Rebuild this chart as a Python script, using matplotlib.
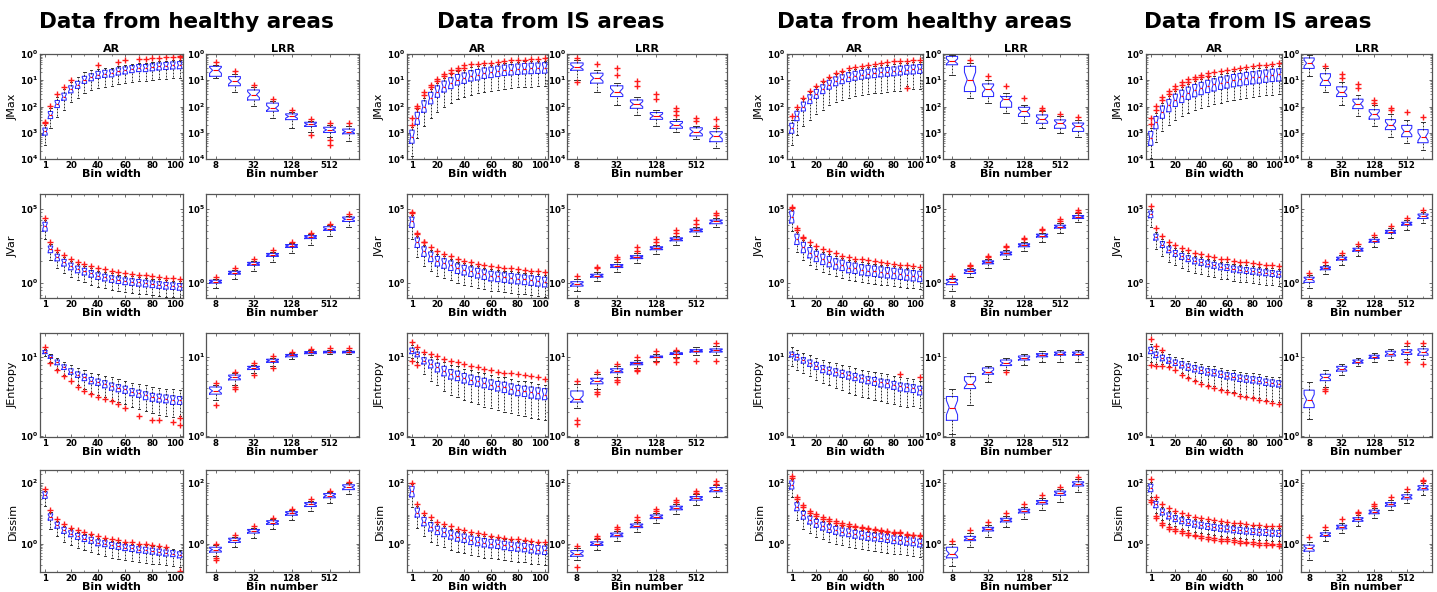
import numpy as np
import matplotlib
matplotlib.use("Agg")
import matplotlib.pyplot as plt
import matplotlib.transforms as mtransforms
from matplotlib.ticker import FixedLocator, NullFormatter, LogLocator

# ---------------- labels ----------------
GROUP_TITLES = ["Data from healthy areas", "Data from IS areas",
                "Data from healthy areas", "Data from IS areas"]
METRICS = ["JMax", "JVar", "JEntropy", "Dissim"]
AR_POS = [1, 5, 10, 15, 20, 25, 30, 35, 40, 45, 50, 55, 60, 65, 70, 75, 80, 85, 90, 95, 100]
AR_TICKS = [1, 20, 40, 60, 80, 100]
LRR_BINS = ["8", "16", "32", "64", "128", "256", "512", "1024"]
LRR_TICK_LABELS = ["8", "32", "128", "512"]

# y tick values (log10) and the labels printed on the reference
YTICK_EXP = {"JMax": [-4, -3, -2, -1, 0], "JVar": [0, 1], "JEntropy": [0, 1], "Dissim": [0, 2]}
YTICK_TXT = {"JMax": ["4", "3", "2", "1", "0"], "JVar": ["0", "5"],
             "JEntropy": ["0", "1"], "Dissim": ["0", "2"]}
YLIM_EXP = {"JMax": (-4, 0), "JVar": (-0.2, 1.2), "JEntropy": (-0.01, 1.3), "Dissim": (-0.94, 2.44)}

# ---------------- data (log10 values), one list per group ----------------
# ---- JMax / AR ----
JMAX_AR_MED = [
 [-2.95,-2.32,-1.90,-1.62,-1.34,-1.17,-0.98,-0.88,-0.79,-0.75,-0.73,-0.66,-0.62,-0.57,-0.53,-0.53,-0.50,-0.47,-0.45,-0.43,-0.42],
 [-3.15,-2.45,-2.00,-1.68,-1.43,-1.24,-1.11,-0.98,-0.92,-0.83,-0.79,-0.73,-0.70,-0.66,-0.62,-0.60,-0.58,-0.56,-0.55,-0.54,-0.53],
 [-2.83,-2.36,-2.00,-1.72,-1.52,-1.34,-1.17,-1.04,-0.96,-0.88,-0.83,-0.79,-0.75,-0.73,-0.70,-0.68,-0.66,-0.63,-0.60,-0.59,-0.57],
 [-3.20,-2.60,-2.20,-1.95,-1.75,-1.60,-1.48,-1.38,-1.30,-1.22,-1.16,-1.10,-1.05,-1.00,-0.96,-0.92,-0.89,-0.86,-0.83,-0.80,-0.78]]
JMAX_AR_Q1 = [
 [-3.09,-2.46,-2.04,-1.76,-1.48,-1.31,-1.12,-1.02,-0.93,-0.89,-0.87,-0.80,-0.76,-0.71,-0.67,-0.67,-0.64,-0.61,-0.59,-0.57,-0.56],
 [-3.40,-2.68,-2.22,-1.90,-1.65,-1.45,-1.32,-1.18,-1.12,-1.03,-0.99,-0.93,-0.90,-0.86,-0.82,-0.80,-0.78,-0.76,-0.75,-0.74,-0.73],
 [-3.02,-2.54,-2.17,-1.89,-1.69,-1.51,-1.34,-1.21,-1.13,-1.05,-1.00,-0.96,-0.92,-0.90,-0.87,-0.85,-0.83,-0.80,-0.77,-0.76,-0.74],
 [-3.48,-2.85,-2.45,-2.20,-2.00,-1.85,-1.73,-1.63,-1.55,-1.47,-1.41,-1.35,-1.30,-1.25,-1.21,-1.17,-1.14,-1.11,-1.08,-1.05,-1.03]]
JMAX_AR_Q3 = [
 [-2.82,-2.19,-1.77,-1.49,-1.21,-1.04,-0.85,-0.75,-0.66,-0.62,-0.60,-0.53,-0.49,-0.44,-0.40,-0.40,-0.37,-0.34,-0.32,-0.30,-0.29],
 [-2.90,-2.22,-1.78,-1.46,-1.21,-1.03,-0.90,-0.78,-0.72,-0.63,-0.59,-0.53,-0.50,-0.46,-0.42,-0.40,-0.38,-0.36,-0.35,-0.34,-0.33],
 [-2.64,-2.18,-1.83,-1.55,-1.35,-1.17,-1.00,-0.87,-0.79,-0.71,-0.66,-0.62,-0.58,-0.56,-0.53,-0.51,-0.49,-0.46,-0.43,-0.42,-0.40],
 [-2.95,-2.38,-1.98,-1.73,-1.53,-1.38,-1.26,-1.16,-1.08,-1.00,-0.94,-0.88,-0.83,-0.78,-0.74,-0.70,-0.67,-0.64,-0.61,-0.58,-0.56]]
JMAX_AR_LO = [
 [-3.45,-2.82,-2.40,-2.12,-1.84,-1.67,-1.48,-1.38,-1.29,-1.25,-1.23,-1.16,-1.12,-1.07,-1.03,-1.03,-1.00,-0.97,-0.95,-0.93,-0.92],
 [-3.90,-3.20,-2.75,-2.45,-2.20,-2.00,-1.85,-1.72,-1.65,-1.56,-1.50,-1.45,-1.40,-1.36,-1.32,-1.30,-1.27,-1.25,-1.24,-1.22,-1.21],
 [-3.45,-3.10,-2.75,-2.50,-2.30,-2.12,-1.95,-1.82,-1.74,-1.66,-1.60,-1.56,-1.52,-1.50,-1.47,-1.45,-1.42,-1.40,-1.22,-1.35,-1.33],
 [-3.95,-3.35,-2.95,-2.70,-2.50,-2.35,-2.23,-2.13,-2.05,-1.97,-1.91,-1.85,-1.80,-1.75,-1.71,-1.67,-1.64,-1.61,-1.58,-1.55,-1.53]]
JMAX_AR_HI = [
 [-2.70,-2.05,-1.62,-1.34,-1.06,-0.87,-0.68,-0.62,-0.59,-0.55,-0.53,-0.46,-0.42,-0.37,-0.33,-0.33,-0.30,-0.27,-0.25,-0.23,-0.22],
 [-2.78,-2.10,-1.66,-1.34,-1.09,-0.91,-0.78,-0.66,-0.60,-0.51,-0.47,-0.43,-0.41,-0.38,-0.34,-0.32,-0.30,-0.28,-0.27,-0.26,-0.25],
 [-2.52,-2.08,-1.73,-1.45,-1.25,-1.07,-0.90,-0.77,-0.69,-0.61,-0.56,-0.52,-0.48,-0.46,-0.43,-0.41,-0.39,-0.36,-0.33,-0.32,-0.30],
 [-2.83,-2.26,-1.86,-1.61,-1.41,-1.26,-1.14,-1.04,-0.96,-0.88,-0.82,-0.76,-0.71,-0.66,-0.62,-0.58,-0.55,-0.52,-0.49,-0.46,-0.44]]
JMAX_AR_FL = [
 [[-2.63,-2.58],[-1.97],[-1.52],[-1.26],[-0.98],[],[],[],[-0.42],[],[],[-0.30],[-0.24],[],[-0.18],[-0.20],[-0.16],[-0.14],[-0.13],[-0.11],[-0.08,-0.10]],
 [[-2.45,-2.70],[-1.97,-2.04],[-1.46,-1.58],[-1.17,-1.26],[-0.96,-1.02],[-0.75,-0.84],[-0.62,-0.72],[-0.54,-0.60],[-0.43,-0.52],[-0.38],[-0.38],[-0.34],[-0.34],[-0.32],[-0.26],[-0.24],[-0.22],[-0.21],[-0.19],[-0.18],[-0.17]],
 [[-2.38],[-2.02],[-1.68],[-1.40],[-1.20],[-1.02],[-0.86],[-0.72],[-0.64],[-0.55],[-0.50],[-0.46],[-0.42],[-0.38],[-0.34],[-0.30],[-0.27],[-0.26],[-0.25,-1.30],[-0.24],[-0.23]],
 [[-2.45,-2.65],[-1.98,-2.15],[-1.62,-1.75],[-1.40,-1.52],[-1.22,-1.33],[-1.08,-1.18],[-0.96,-1.06],[-0.87,-0.97],[-0.80,-0.89],[-0.74,-0.82],[-0.69],[-0.64],[-0.60],[-0.56],[-0.52],[-0.49],[-0.46],[-0.43],[-0.41],[-0.38],[-0.36]]]

# ---- JMax / LRR ----
JMAX_LRR_MED = [[-0.62,-1.04,-1.55,-2.06,-2.38,-2.68,-2.89,-2.96],
                [-0.50,-0.92,-1.43,-1.91,-2.36,-2.70,-2.96,-3.12],
                [-0.28,-0.98,-1.34,-1.72,-2.19,-2.48,-2.64,-2.76],
                [-0.35,-1.00,-1.45,-1.90,-2.30,-2.70,-2.95,-3.15]]
JMAX_LRR_Q1 = [[-0.85,-1.21,-1.75,-2.18,-2.50,-2.76,-2.99,-3.04],
               [-0.62,-1.11,-1.62,-2.07,-2.49,-2.83,-3.12,-3.34],
               [-0.41,-1.43,-1.62,-2.03,-2.38,-2.64,-2.83,-2.95],
               [-0.55,-1.20,-1.62,-2.08,-2.48,-2.88,-3.15,-3.38]]
JMAX_LRR_Q3 = [[-0.47,-0.86,-1.37,-1.87,-2.28,-2.60,-2.79,-2.86],
               [-0.34,-0.73,-1.21,-1.75,-2.23,-2.57,-2.81,-2.96],
               [-0.09,-0.47,-1.14,-1.62,-2.03,-2.32,-2.51,-2.63],
               [-0.15,-0.75,-1.25,-1.72,-2.12,-2.50,-2.72,-2.88]]
JMAX_LRR_LO = [[-0.92,-1.43,-1.97,-2.43,-2.82,-2.96,-3.15,-3.33],
               [-0.98,-1.43,-1.94,-2.32,-2.74,-2.99,-3.25,-3.58],
               [-0.79,-1.68,-1.87,-2.26,-2.64,-2.83,-3.02,-3.15],
               [-0.85,-1.45,-1.95,-2.35,-2.75,-3.15,-3.40,-3.65]]
JMAX_LRR_HI = [[-0.40,-0.75,-1.25,-1.78,-2.20,-2.55,-2.70,-2.75],
               [-0.22,-0.60,-1.11,-1.62,-2.13,-2.49,-2.76,-2.82],
               [-0.03,-0.34,-0.98,-1.49,-1.94,-2.19,-2.38,-2.51],
               [-0.05,-0.55,-1.05,-1.55,-1.95,-2.30,-2.50,-2.60]]
JMAX_LRR_FL = [[[-0.32],[-0.66],[-1.17],[-1.71],[-2.13],[-2.47,-3.10],[-2.61,-3.27,-3.45],[-2.61]],
               [[-0.15,-1.08],[-0.37],[-0.54,-0.79],[-1.04,-1.21],[-1.52,-1.72],[-2.06,-2.19,-2.31],[-2.44,-2.57],[-2.48,-2.74]],
               [[],[-0.22],[-0.83],[-1.21],[-1.68],[-2.06,-2.13],[-2.28],[-2.41]],
               [[],[-0.45],[-0.75,-0.90],[-1.15,-1.30],[-1.75,-1.85],[-2.05,-2.15],[-2.20],[-2.40]]]

# ---- JVar / AR ----
JVAR_AR_MED = [
 [0.77,0.46,0.35,0.28,0.23,0.19,0.16,0.13,0.10,0.08,0.06,0.045,0.03,0.02,0.01,0.00,-0.01,-0.02,-0.03,-0.035,-0.045],
 [0.84,0.55,0.43,0.36,0.30,0.27,0.24,0.20,0.18,0.16,0.14,0.12,0.10,0.09,0.08,0.07,0.06,0.05,0.04,0.03,0.02],
 [0.89,0.59,0.48,0.41,0.36,0.32,0.29,0.26,0.24,0.21,0.20,0.18,0.17,0.16,0.15,0.14,0.13,0.12,0.11,0.10,0.09],
 [0.93,0.62,0.52,0.45,0.40,0.36,0.33,0.30,0.28,0.26,0.24,0.22,0.21,0.19,0.18,0.17,0.16,0.15,0.14,0.13,0.12]]
JVAR_AR_Q1 = [
 [0.70,0.41,0.30,0.23,0.18,0.14,0.11,0.08,0.05,0.03,0.01,-0.005,-0.02,-0.03,-0.04,-0.05,-0.06,-0.07,-0.08,-0.085,-0.095],
 [0.75,0.48,0.36,0.29,0.23,0.20,0.17,0.13,0.11,0.09,0.07,0.05,0.03,0.02,0.01,0.00,-0.01,-0.02,-0.03,-0.04,-0.05],
 [0.81,0.52,0.41,0.34,0.29,0.25,0.22,0.19,0.17,0.14,0.13,0.11,0.10,0.09,0.08,0.07,0.06,0.05,0.04,0.03,0.02],
 [0.88,0.58,0.48,0.41,0.36,0.32,0.29,0.26,0.24,0.22,0.20,0.18,0.17,0.15,0.14,0.13,0.12,0.11,0.10,0.09,0.08]]
JVAR_AR_Q3 = [
 [0.82,0.50,0.39,0.32,0.27,0.23,0.20,0.17,0.14,0.12,0.10,0.085,0.07,0.06,0.05,0.04,0.03,0.02,0.01,0.005,-0.005],
 [0.89,0.61,0.49,0.42,0.36,0.33,0.30,0.26,0.24,0.22,0.20,0.18,0.16,0.15,0.14,0.13,0.12,0.11,0.10,0.09,0.08],
 [0.97,0.66,0.55,0.48,0.43,0.39,0.36,0.33,0.31,0.28,0.27,0.25,0.24,0.23,0.22,0.21,0.20,0.19,0.18,0.17,0.16],
 [0.97,0.66,0.56,0.49,0.44,0.40,0.37,0.34,0.32,0.30,0.28,0.26,0.25,0.23,0.22,0.21,0.20,0.19,0.18,0.17,0.16]]
JVAR_AR_LO = [
 [0.60,0.31,0.20,0.13,0.08,0.04,0.01,-0.02,-0.05,-0.07,-0.09,-0.105,-0.12,-0.13,-0.14,-0.15,-0.16,-0.17,-0.18,-0.185,-0.195],
 [0.60,0.35,0.23,0.16,0.10,0.07,0.04,0.00,-0.02,-0.04,-0.06,-0.08,-0.10,-0.11,-0.12,-0.13,-0.14,-0.15,-0.16,-0.17,-0.18],
 [0.70,0.42,0.31,0.24,0.19,0.15,0.12,0.09,0.07,0.04,0.03,0.01,0.00,-0.01,-0.02,-0.03,-0.04,-0.05,-0.06,-0.07,-0.08],
 [0.76,0.46,0.36,0.29,0.24,0.20,0.17,0.14,0.12,0.10,0.08,0.06,0.05,0.03,0.02,0.01,0.00,-0.01,-0.02,-0.03,-0.04]]
JVAR_AR_HI = [
 [0.85,0.53,0.42,0.35,0.30,0.26,0.23,0.20,0.17,0.15,0.13,0.115,0.10,0.09,0.08,0.07,0.06,0.05,0.04,0.035,0.025],
 [0.92,0.64,0.52,0.45,0.39,0.36,0.33,0.29,0.27,0.25,0.23,0.21,0.19,0.18,0.17,0.16,0.15,0.14,0.13,0.12,0.11],
 [0.99,0.69,0.58,0.51,0.46,0.42,0.39,0.36,0.34,0.31,0.30,0.28,0.27,0.26,0.25,0.24,0.23,0.22,0.21,0.20,0.19],
 [1.00,0.69,0.59,0.52,0.47,0.43,0.40,0.37,0.35,0.33,0.31,0.29,0.28,0.26,0.25,0.24,0.23,0.22,0.21,0.20,0.19]]
JVAR_AR_FL = [
 [[0.88],[0.56],[0.45],[0.38],[0.33],[0.29],[0.26],[0.23],[0.205],[0.19],[0.17],[0.155],[0.14],[0.126],[0.115],[0.105],[0.095],[0.085],[0.075],[0.065],[0.055]],
 [[0.96,0.94],[0.67,0.66],[0.56,0.55],[0.48],[0.43],[0.39],[0.36],[0.33],[0.30],[0.28],[0.26],[0.245],[0.23],[0.22],[0.21],[0.20],[0.19],[0.18],[0.17],[0.16],[0.15]],
 [[1.02,1.01],[0.74,0.72],[0.62,0.61],[0.55],[0.50],[0.46],[0.43],[0.40],[0.37],[0.35],[0.33],[0.32],[0.31],[0.30],[0.29],[0.27],[0.26],[0.25],[0.24],[0.23],[0.22]],
 [[1.04],[0.74],[0.63],[0.56],[0.51],[0.47],[0.44],[0.41],[0.39],[0.37],[0.35],[0.33],[0.32],[0.30],[0.29],[0.28],[0.27],[0.26],[0.25],[0.24],[0.23]]]

# ---- JVar / LRR ----
JVAR_LRR_MED = [[0.02,0.14,0.26,0.38,0.50,0.62,0.73,0.86],
                [-0.01,0.10,0.23,0.35,0.47,0.59,0.71,0.83],
                [0.02,0.16,0.28,0.40,0.51,0.64,0.76,0.89],
                [0.05,0.20,0.33,0.45,0.57,0.69,0.80,0.90]]
JVAR_LRR_Q1 = [[0.00,0.12,0.24,0.36,0.48,0.60,0.71,0.83],
               [-0.04,0.08,0.21,0.33,0.45,0.57,0.69,0.80],
               [-0.02,0.13,0.26,0.38,0.49,0.62,0.74,0.87],
               [0.01,0.18,0.31,0.43,0.55,0.67,0.78,0.87]]
JVAR_LRR_Q3 = [[0.04,0.16,0.28,0.40,0.52,0.64,0.76,0.89],
               [0.02,0.12,0.25,0.37,0.49,0.61,0.73,0.85],
               [0.05,0.18,0.30,0.42,0.53,0.66,0.78,0.91],
               [0.08,0.22,0.35,0.47,0.59,0.71,0.82,0.93]]
JVAR_LRR_LO = [[-0.07,0.06,0.17,0.29,0.40,0.52,0.63,0.75],
               [-0.10,0.03,0.15,0.27,0.39,0.51,0.63,0.75],
               [-0.10,0.08,0.20,0.32,0.43,0.56,0.68,0.82],
               [-0.06,0.12,0.25,0.37,0.49,0.61,0.72,0.81]]
JVAR_LRR_HI = [[0.06,0.18,0.30,0.42,0.54,0.66,0.78,0.91],
               [0.05,0.15,0.28,0.40,0.52,0.64,0.76,0.88],
               [0.07,0.21,0.33,0.45,0.56,0.68,0.81,0.94],
               [0.11,0.25,0.38,0.50,0.62,0.74,0.85,0.96]]
JVAR_LRR_FL = [[[0.08],[0.20],[0.32],[0.44],[0.56],[0.68],[0.80],[0.93]],
               [[0.09],[0.22,0.20],[0.35,0.32],[0.48,0.43],[0.59,0.56],[0.71,0.68],[0.85,0.80],[0.95,0.92]],
               [[0.10],[0.23,0.24],[0.35,0.37],[0.48,0.50],[0.59,0.61],[0.71,0.73],[0.84,0.86],[0.96,0.98]],
               [[0.14],[0.28],[0.41],[0.53],[0.65],[0.77],[0.88],[0.99]]]

# ---- JEntropy / AR ----
JENT_AR_MED = [
 [1.06,1.00,0.93,0.87,0.81,0.77,0.74,0.70,0.68,0.66,0.63,0.61,0.59,0.56,0.54,0.52,0.50,0.485,0.47,0.46,0.45],
 [1.07,1.03,0.95,0.91,0.87,0.82,0.78,0.76,0.73,0.71,0.69,0.67,0.65,0.63,0.62,0.60,0.58,0.57,0.555,0.54,0.525],
 [1.03,1.00,0.96,0.92,0.89,0.85,0.83,0.81,0.79,0.77,0.75,0.73,0.71,0.70,0.68,0.67,0.65,0.63,0.62,0.61,0.58],
 [1.08,1.02,0.98,0.95,0.92,0.90,0.87,0.85,0.83,0.81,0.80,0.78,0.76,0.75,0.73,0.72,0.71,0.70,0.68,0.67,0.66]]
JENT_AR_Q1 = [
 [1.04,0.98,0.90,0.84,0.78,0.74,0.70,0.66,0.64,0.61,0.58,0.56,0.54,0.51,0.49,0.46,0.44,0.43,0.42,0.40,0.40],
 [1.04,1.00,0.91,0.86,0.81,0.76,0.72,0.70,0.67,0.65,0.63,0.61,0.59,0.57,0.55,0.53,0.51,0.50,0.48,0.47,0.46],
 [1.00,0.96,0.92,0.88,0.84,0.80,0.78,0.76,0.74,0.72,0.70,0.68,0.66,0.64,0.62,0.61,0.59,0.57,0.56,0.55,0.52],
 [1.04,0.99,0.95,0.92,0.89,0.86,0.83,0.81,0.79,0.77,0.76,0.74,0.72,0.71,0.69,0.68,0.67,0.66,0.64,0.63,0.62]]
JENT_AR_Q3 = [
 [1.08,1.02,0.96,0.90,0.85,0.81,0.78,0.74,0.72,0.70,0.67,0.65,0.63,0.60,0.58,0.56,0.54,0.53,0.52,0.51,0.50],
 [1.11,1.06,0.99,0.96,0.92,0.88,0.84,0.82,0.79,0.77,0.75,0.73,0.71,0.69,0.68,0.66,0.64,0.63,0.62,0.61,0.60],
 [1.06,1.03,0.99,0.96,0.93,0.89,0.87,0.85,0.83,0.81,0.79,0.77,0.75,0.74,0.72,0.71,0.69,0.67,0.66,0.65,0.63],
 [1.12,1.06,1.02,0.99,0.96,0.94,0.91,0.89,0.87,0.85,0.84,0.82,0.80,0.79,0.77,0.76,0.75,0.74,0.72,0.71,0.70]]
JENT_AR_LO = [
 [1.01,0.94,0.85,0.77,0.70,0.64,0.59,0.55,0.52,0.49,0.46,0.43,0.40,0.37,0.34,0.32,0.29,0.27,0.26,0.24,0.25],
 [0.98,0.93,0.78,0.70,0.64,0.57,0.52,0.49,0.45,0.43,0.40,0.37,0.35,0.33,0.31,0.29,0.27,0.25,0.23,0.22,0.21],
 [0.88,0.84,0.80,0.76,0.71,0.67,0.64,0.61,0.58,0.55,0.52,0.50,0.48,0.46,0.44,0.42,0.40,0.38,0.37,0.38,0.36],
 [0.94,0.91,0.91,0.89,0.84,0.79,0.75,0.71,0.68,0.65,0.63,0.60,0.58,0.56,0.53,0.51,0.50,0.48,0.46,0.44,0.43]]
JENT_AR_HI = [
 [1.10,1.04,0.99,0.94,0.90,0.86,0.83,0.80,0.78,0.76,0.74,0.72,0.70,0.67,0.66,0.64,0.62,0.61,0.60,0.59,0.58],
 [1.15,1.10,1.04,1.00,0.97,0.93,0.90,0.88,0.85,0.83,0.81,0.79,0.77,0.75,0.74,0.72,0.70,0.69,0.68,0.66,0.65],
 [1.12,1.09,1.05,1.02,0.99,0.96,0.94,0.92,0.90,0.88,0.86,0.84,0.82,0.81,0.79,0.78,0.76,0.74,0.73,0.72,0.70],
 [1.16,1.10,1.06,1.03,1.00,0.98,0.95,0.93,0.91,0.89,0.88,0.86,0.84,0.83,0.81,0.80,0.79,0.78,0.76,0.75,0.74]]
JENT_AR_FL = [
 [[1.12],[0.92],[0.83],[0.755],[0.69],[0.62],[0.57],[0.53],[0.50],[0.47],[0.44],[0.41],[0.35],[],[0.26],[],[0.20],[0.20],[],[0.18],[0.23,0.14]],
 [[1.19,0.95],[1.12,0.90],[1.06],[1.03],[1.01],[0.97],[0.95],[0.93],[0.91],[0.89],[0.87],[0.85],[0.83],[0.81],[0.80],[0.79],[0.78],[0.77],[0.76],[0.74],[0.72]],
 [[],[],[],[],[],[],[],[],[],[],[],[],[],[],[],[],[],[0.78],[],[],[0.74]],
 [[1.22,0.90],[1.14,0.89],[1.09,0.89],[0.87],[0.83],[0.77],[0.73],[0.70],[0.66],[0.63],[0.61],[0.58],[0.56],[0.54],[0.51],[0.49],[0.48],[0.46],[0.44],[0.42],[0.41]]]

# ---- JEntropy / LRR ----
JENT_LRR_MED = [[0.57,0.74,0.865,0.95,1.02,1.055,1.06,1.06],
                [0.47,0.70,0.825,0.92,1.00,1.04,1.075,1.08],
                [0.36,0.66,0.81,0.92,0.98,1.02,1.04,1.04],
                [0.46,0.74,0.85,0.94,1.00,1.04,1.06,1.06]]
JENT_LRR_Q1 = [[0.53,0.71,0.84,0.93,1.00,1.04,1.05,1.05],
               [0.43,0.66,0.80,0.90,0.99,1.03,1.06,1.06],
               [0.20,0.60,0.78,0.89,0.96,1.00,1.02,1.02],
               [0.36,0.70,0.82,0.92,0.98,1.01,1.03,1.02]]
JENT_LRR_Q3 = [[0.62,0.77,0.88,0.97,1.03,1.065,1.07,1.07],
               [0.57,0.73,0.85,0.93,1.01,1.05,1.09,1.10],
               [0.50,0.75,0.86,0.96,1.01,1.04,1.06,1.06],
               [0.58,0.78,0.88,0.96,1.02,1.07,1.09,1.10]]
JENT_LRR_LO = [[0.45,0.64,0.79,0.88,0.97,1.02,1.03,1.03],
               [0.36,0.60,0.75,0.86,0.95,1.00,1.02,1.02],
               [0.03,0.39,0.68,0.83,0.90,0.94,0.94,0.94],
               [0.22,0.62,0.77,0.88,0.94,0.96,0.97,0.97]]
JENT_LRR_HI = [[0.64,0.79,0.90,0.99,1.05,1.08,1.09,1.09],
               [0.66,0.78,0.88,0.96,1.04,1.07,1.12,1.14],
               [0.60,0.80,0.89,0.98,1.04,1.07,1.09,1.09],
               [0.68,0.83,0.91,0.99,1.05,1.10,1.13,1.14]]
JENT_LRR_FL = [[[0.67,0.39],[0.81,0.62,0.60],[0.92,0.77],[1.01,0.86],[1.06],[1.10],[1.11],[1.11]],
               [[0.70,0.21,0.15],[0.81,0.56,0.53],[0.91,0.71,0.68],[1.00,0.84,0.82],[1.07,0.94],[1.09,0.98,0.93],[0.95],[1.17,0.95]],
               [[],[],[],[0.81],[],[],[],[]],
               [[],[0.60,0.57],[],[],[],[],[0.93,1.17],[0.91,1.18]]]

# ---- Dissim / AR ----
DIS_AR_MED = [
 [1.61,0.89,0.61,0.44,0.33,0.24,0.17,0.11,0.03,0.00,-0.06,-0.09,-0.13,-0.16,-0.20,-0.22,-0.25,-0.28,-0.31,-0.33,-0.37],
 [1.73,1.03,0.73,0.56,0.44,0.37,0.29,0.22,0.18,0.11,0.07,0.03,0.00,-0.02,-0.06,-0.09,-0.11,-0.13,-0.17,-0.20,-0.22],
 [1.94,1.22,0.94,0.78,0.67,0.58,0.50,0.44,0.39,0.36,0.31,0.28,0.24,0.22,0.20,0.17,0.13,0.11,0.08,0.06,0.02],
 [1.85,1.30,1.05,0.92,0.83,0.76,0.70,0.65,0.61,0.57,0.54,0.51,0.49,0.46,0.44,0.42,0.40,0.38,0.37,0.35,0.34]]
DIS_AR_Q1 = [
 [1.50,0.78,0.51,0.34,0.23,0.14,0.07,0.01,-0.07,-0.10,-0.16,-0.19,-0.23,-0.26,-0.30,-0.32,-0.35,-0.38,-0.41,-0.43,-0.47],
 [1.55,0.88,0.59,0.42,0.30,0.23,0.15,0.08,0.04,-0.03,-0.07,-0.11,-0.14,-0.16,-0.20,-0.23,-0.25,-0.27,-0.31,-0.34,-0.36],
 [1.81,1.09,0.81,0.65,0.54,0.45,0.37,0.31,0.26,0.23,0.18,0.15,0.11,0.09,0.07,0.04,0.00,-0.02,-0.05,-0.07,-0.11],
 [1.72,1.19,0.95,0.82,0.73,0.66,0.60,0.55,0.51,0.47,0.44,0.41,0.39,0.36,0.34,0.32,0.30,0.28,0.27,0.25,0.24]]
DIS_AR_Q3 = [
 [1.72,0.99,0.71,0.54,0.43,0.34,0.27,0.21,0.13,0.10,0.04,0.01,-0.03,-0.06,-0.10,-0.12,-0.15,-0.18,-0.21,-0.23,-0.27],
 [1.90,1.18,0.87,0.70,0.58,0.51,0.43,0.36,0.32,0.25,0.21,0.17,0.14,0.12,0.08,0.05,0.03,0.01,-0.03,-0.06,-0.08],
 [2.08,1.36,1.07,0.91,0.80,0.71,0.63,0.57,0.52,0.49,0.44,0.41,0.37,0.35,0.33,0.30,0.26,0.24,0.21,0.19,0.15],
 [1.97,1.40,1.15,1.02,0.93,0.86,0.80,0.75,0.71,0.67,0.64,0.61,0.59,0.56,0.54,0.52,0.50,0.48,0.47,0.45,0.44]]
DIS_AR_LO = [
 [1.25,0.50,0.24,0.07,-0.05,-0.14,-0.21,-0.28,-0.36,-0.40,-0.46,-0.50,-0.54,-0.57,-0.61,-0.63,-0.66,-0.69,-0.72,-0.74,-0.78],
 [1.20,0.53,0.24,0.07,-0.05,-0.12,-0.20,-0.27,-0.31,-0.38,-0.42,-0.46,-0.49,-0.51,-0.55,-0.58,-0.60,-0.62,-0.66,-0.69,-0.71],
 [1.55,0.78,0.50,0.34,0.22,0.14,0.05,-0.01,-0.06,-0.10,-0.15,-0.18,-0.22,-0.24,-0.27,-0.30,-0.33,-0.35,-0.38,-0.40,-0.45],
 [1.55,1.02,0.78,0.66,0.57,0.50,0.44,0.39,0.35,0.31,0.28,0.25,0.23,0.20,0.18,0.16,0.14,0.12,0.11,0.09,0.08]]
DIS_AR_HI = [
 [1.76,1.05,0.76,0.60,0.49,0.40,0.33,0.27,0.19,0.16,0.10,0.07,0.03,0.00,-0.04,-0.06,-0.09,-0.12,-0.15,-0.17,-0.21],
 [1.97,1.25,0.94,0.77,0.65,0.58,0.50,0.43,0.39,0.32,0.28,0.24,0.21,0.19,0.15,0.12,0.10,0.08,0.04,0.01,-0.01],
 [2.13,1.41,1.12,0.96,0.85,0.76,0.68,0.62,0.57,0.54,0.49,0.46,0.42,0.40,0.38,0.35,0.31,0.29,0.26,0.24,0.20],
 [2.05,1.47,1.22,1.09,1.00,0.93,0.87,0.82,0.78,0.74,0.71,0.68,0.66,0.63,0.61,0.59,0.57,0.55,0.54,0.52,0.51]]
DIS_AR_FL = [
 [[1.82],[1.10],[0.80],[0.64],[0.53],[0.44],[0.37],[0.31],[0.24],[0.20],[0.15],[0.11],[0.07],[0.04],[0.00],[-0.02],[-0.05],[-0.08],[-0.11],[],[-0.92]],
 [[2.01],[1.31],[1.03],[0.87],[0.73],[0.64],[0.57],[0.50],[0.44],[0.39],[0.34],[0.31],[0.26],[0.22],[0.18],[0.17],[0.14],[0.11],[0.09],[0.07],[0.06]],
 [[2.24,2.17],[1.56,1.48],[1.28,1.20],[1.09,1.02],[0.97,0.91],[0.89,0.82],[0.80,0.74],[0.74,0.68],[0.69,0.63],[0.64,0.59],[0.60,0.55],[0.56,0.52],[0.52,0.48],[0.49,0.45],[0.44,0.41],[0.42,0.38],[0.40,0.36],[0.37,0.34],[0.33,0.30],[0.30,0.28],[0.28,0.25]],
 [[2.15,1.45,1.38],[1.56,0.90,0.84],[1.30,0.68,0.62],[1.17,0.56,0.50],[1.07,0.48,0.42],[1.00,0.41,0.35],[0.94,0.35,0.29],[0.89,0.30,0.24],[0.85,0.26,0.20],[0.81,0.22,0.16],[0.78,0.19,0.13],[0.75,0.16,0.10],[0.72,0.14,0.08],[0.70,0.11,0.05],[0.67,0.09,0.03],[0.65,0.07,0.01],[0.63,0.05,-0.01],[0.61,0.03,-0.03],[0.60,0.02,-0.04],[0.58,0.00,-0.06],[0.57,-0.01,-0.07]]]

# ---- Dissim / LRR ----
DIS_LRR_MED = [[-0.20,0.11,0.41,0.70,1.00,1.30,1.59,1.87],
               [-0.33,0.00,0.29,0.59,0.89,1.18,1.50,1.79],
               [-0.33,0.17,0.48,0.78,1.08,1.37,1.67,1.98],
               [-0.15,0.30,0.55,0.80,1.05,1.30,1.55,1.85]]
DIS_LRR_Q1 = [[-0.28,0.04,0.35,0.64,0.94,1.23,1.52,1.79],
              [-0.42,-0.06,0.23,0.53,0.83,1.12,1.44,1.72],
              [-0.47,0.10,0.42,0.72,1.02,1.31,1.60,1.91],
              [-0.25,0.24,0.49,0.74,0.99,1.24,1.48,1.78]]
DIS_LRR_Q3 = [[-0.12,0.18,0.47,0.76,1.06,1.36,1.66,1.95],
              [-0.23,0.06,0.35,0.65,0.95,1.24,1.56,1.86],
              [-0.12,0.24,0.54,0.84,1.14,1.43,1.74,2.05],
              [-0.05,0.36,0.61,0.86,1.11,1.36,1.62,1.92]]
DIS_LRR_LO = [[-0.40,-0.10,0.20,0.48,0.78,1.07,1.35,1.65],
              [-0.55,-0.20,0.10,0.40,0.70,0.99,1.28,1.56],
              [-0.75,-0.12,0.23,0.56,0.80,1.10,1.37,1.70],
              [-0.55,0.08,0.35,0.60,0.85,1.10,1.35,1.62]]
DIS_LRR_HI = [[-0.05,0.22,0.52,0.81,1.11,1.42,1.72,2.01],
              [-0.15,0.14,0.43,0.72,1.02,1.32,1.63,1.94],
              [0.00,0.35,0.62,0.92,1.22,1.52,1.82,2.14],
              [0.05,0.44,0.69,0.94,1.19,1.44,1.70,2.00]]
DIS_LRR_FL = [[[0.00,-0.47,-0.55],[0.27],[0.58],[0.86],[1.16],[1.47],[1.76],[2.05]],
              [[-0.08,-0.78],[0.26,0.20],[0.56,0.48],[0.87,0.78],[1.14,1.07],[1.44,1.37],[1.76,1.67],[2.06,1.98]],
              [[0.09],[0.44],[0.72],[1.02],[1.31],[1.61],[1.89],[2.22]],
              [[0.22],[0.55],[0.80],[1.05,1.00],[1.30,1.25],[1.55],[1.80],[2.12,2.06]]]

AR_DATA = {"JMax": (JMAX_AR_MED, JMAX_AR_Q1, JMAX_AR_Q3, JMAX_AR_LO, JMAX_AR_HI, JMAX_AR_FL),
           "JVar": (JVAR_AR_MED, JVAR_AR_Q1, JVAR_AR_Q3, JVAR_AR_LO, JVAR_AR_HI, JVAR_AR_FL),
           "JEntropy": (JENT_AR_MED, JENT_AR_Q1, JENT_AR_Q3, JENT_AR_LO, JENT_AR_HI, JENT_AR_FL),
           "Dissim": (DIS_AR_MED, DIS_AR_Q1, DIS_AR_Q3, DIS_AR_LO, DIS_AR_HI, DIS_AR_FL)}
LRR_DATA = {"JMax": (JMAX_LRR_MED, JMAX_LRR_Q1, JMAX_LRR_Q3, JMAX_LRR_LO, JMAX_LRR_HI, JMAX_LRR_FL),
            "JVar": (JVAR_LRR_MED, JVAR_LRR_Q1, JVAR_LRR_Q3, JVAR_LRR_LO, JVAR_LRR_HI, JVAR_LRR_FL),
            "JEntropy": (JENT_LRR_MED, JENT_LRR_Q1, JENT_LRR_Q3, JENT_LRR_LO, JENT_LRR_HI, JENT_LRR_FL),
            "Dissim": (DIS_LRR_MED, DIS_LRR_Q1, DIS_LRR_Q3, DIS_LRR_LO, DIS_LRR_HI, DIS_LRR_FL)}

# ---------------- layout (pixels) ----------------
W, H = 1437, 592
GROUP_X = [(40, 183, 206, 359), (407, 548, 567, 727), (787, 923, 943, 1088), (1146, 1282, 1301, 1432)]
ROW_Y = [(54, 159), (194, 298), (333, 437), (470, 572)]
TITLE_X = [186, 551, 924, 1258]

plt.rcParams["font.family"] = ["DejaVu Sans"]
plt.rcParams["mathtext.fontset"] = "dejavusans"
fig = plt.figure(figsize=(W / 100, H / 100), dpi=100)
fig.patch.set_facecolor("white")

FRAME = "#555555"
BOXKW = dict(boxprops=dict(color="#2a2aff", linewidth=0.75),
             medianprops=dict(color="#ff0000", linewidth=0.8),
             whiskerprops=dict(color="#222222", linewidth=0.65, linestyle=(0, (2.0, 1.4))),
             capprops=dict(color="#222222", linewidth=0.65),
             flierprops=dict(marker="+", markeredgecolor="#ff1a1a", markersize=4.8,
                             markeredgewidth=1.0, linestyle="none"))


def make_stats(med, q1, q3, lo, hi, fl):
    stats = []
    for i in range(len(med)):
        iqr = q3[i] - q1[i]
        stats.append(dict(med=10 ** med[i], q1=10 ** q1[i], q3=10 ** q3[i],
                          whislo=10 ** lo[i], whishi=10 ** hi[i],
                          cilo=10 ** (med[i] - 0.3 * iqr), cihi=10 ** (med[i] + 0.3 * iqr),
                          fliers=10 ** np.asarray(fl[i], dtype=float)))
    return stats


def style_axes(ax, metric, xt, xtl, xlabel, xminor):
    ax.set_yscale("log")
    lo_e, hi_e = YLIM_EXP[metric]
    ax.set_ylim(10 ** lo_e, 10 ** hi_e)
    ax.yaxis.set_major_locator(FixedLocator([10.0 ** e for e in YTICK_EXP[metric]]))
    ax.set_yticklabels([r"$\mathbf{10^{%s}}$" % t for t in YTICK_TXT[metric]])
    ax.yaxis.set_minor_locator(LogLocator(base=10, subs=np.arange(2, 10)))
    ax.yaxis.set_minor_formatter(NullFormatter())
    ax.set_xticks(xt)
    ax.set_xticklabels(xtl, fontweight="bold")
    ax.set_xticks(xminor, minor=True)
    ax.tick_params(which="both", direction="in", top=True, right=True, color=FRAME,
                   labelsize=6.2, pad=1.3)
    ax.tick_params(which="major", length=2.5, width=0.6)
    ax.tick_params(which="minor", length=1.3, width=0.5)
    for s in ax.spines.values():
        s.set_color(FRAME)
        s.set_linewidth(0.9)
    ax.set_xlabel(xlabel, fontsize=8, fontweight="bold", labelpad=-0.5)


for g in range(4):
    ax_l, ax_r, lr_l, lr_r = GROUP_X[g]
    fig.text(TITLE_X[g] / W, 1 - 28 / H, GROUP_TITLES[g], ha="center", va="baseline",
             fontsize=15.5, fontweight="bold")
    for r, metric in enumerate(METRICS):
        yt, yb = ROW_Y[r]
        # AR panel
        ax = fig.add_axes([ax_l / W, 1 - yb / H, (ax_r - ax_l) / W, (yb - yt) / H])
        med, q1, q3, lo, hi, fl = (d[g] for d in AR_DATA[metric])
        ax.bxp(make_stats(med, q1, q3, lo, hi, fl), positions=AR_POS, widths=3.2,
               shownotches=True, manage_ticks=False, capwidths=1.6, **BOXKW)
        ax.set_xlim(-2.7, 102.5)
        style_axes(ax, metric, AR_TICKS, [str(t) for t in AR_TICKS], "Bin width",
                   list(range(10, 100, 10)))
        # nudge the last x label ("100") slightly left so it does not run into the next panel
        last = ax.get_xticklabels()[-1]
        last.set_transform(last.get_transform() +
                           mtransforms.ScaledTranslation(-5 / 100, 0, fig.dpi_scale_trans))
        ax.set_ylabel(metric, fontsize=8, family=["Liberation Sans Narrow", "DejaVu Sans"])
        ax.yaxis.set_label_coords(-22 / (ax_r - ax_l), 0.5)
        if r == 0:
            ax.set_title("AR", fontsize=8, fontweight="bold", pad=1.5)
        # LRR panel
        ax2 = fig.add_axes([lr_l / W, 1 - yb / H, (lr_r - lr_l) / W, (yb - yt) / H])
        med, q1, q3, lo, hi, fl = (d[g] for d in LRR_DATA[metric])
        pos = list(range(1, len(LRR_BINS) + 1))
        ax2.bxp(make_stats(med, q1, q3, lo, hi, fl), positions=pos, widths=0.62,
                shownotches=True, manage_ticks=False, capwidths=0.3, **BOXKW)
        ax2.set_xlim(0.5, 8.55)
        lrr_ticks = [pos[LRR_BINS.index(t)] for t in LRR_TICK_LABELS]
        style_axes(ax2, metric, lrr_ticks, LRR_TICK_LABELS, "Bin number", pos)
        ax2.tick_params(axis="y", pad=0.6)
        if r == 0:
            ax2.set_title("LRR", fontsize=8, fontweight="bold", pad=1.5)

fig.savefig("out.png", dpi=100, facecolor="white")
